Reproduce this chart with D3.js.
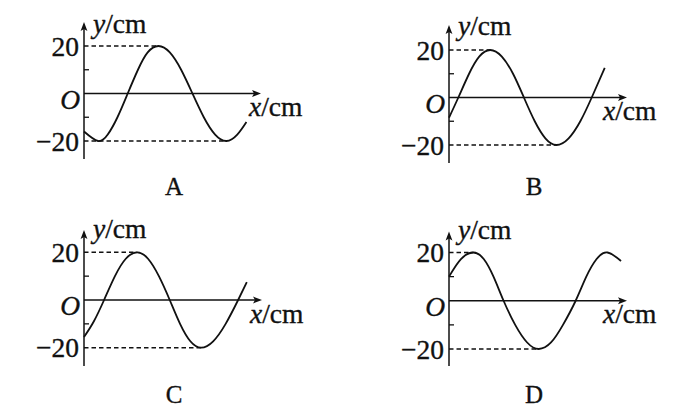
<!DOCTYPE html>
<html>
<head>
<meta charset="utf-8">
<script src="https://cdn.jsdelivr.net/npm/d3@7"></script>
<style>
  html, body { margin: 0; padding: 0; background: #fff; }
  svg { display: block; }
  text { font-family: "Liberation Serif", "Times New Roman", serif; fill: #111; stroke: #111; stroke-width: 0.35px; }
</style>
</head>
<body>
<svg id="chart" width="684" height="411"></svg>
<script>
// ---- data ----
const panelNames = ["A", "B", "C", "D"];
const yTickLabels = ["20", "O", "\u221220"];
const yLabelValues = [20, 0, -20];
const minorTicks = [10, -10];
const amplitude = 20;

const A_x = [0, 1.3, 2.2, 3.1, 4.05, 5.0, 5.9, 6.9, 7.95, 9.0, 10.05, 11.1, 12.15, 13.2, 14.2, 15.05];
const A_y = [-16, -20, -17.3, -10, 0, 10, 17.3, 20, 17.3, 10, 0, -10, -17.3, -20, -17.3, -12];

const B_x = [0, 0.86, 1.85, 2.8, 3.8, 4.85, 5.9, 6.9, 7.9, 8.9, 9.9, 11.0, 12.1, 13.15, 14.35];
const B_y = [-8.5, 0, 10, 17.3, 20, 17.3, 10, 0, -10, -17.3, -20, -17.3, -10, 0, 12.5];

const C_x = [0, 0.9, 1.85, 2.85, 3.85, 4.9, 5.9, 6.9, 7.9, 8.85, 9.8, 10.8, 11.9, 13.05, 14.2, 15.0];
const C_y = [-15.5, -9, 0, 10, 17.3, 20, 17.3, 10, 0, -10, -17.3, -20, -17.3, -10, 0, 7.5];

const D_x = [0, 1.1, 2.25, 3.2, 4.1, 5.03, 6.1, 7.2, 8.27, 9.4, 10.5, 11.67, 12.65, 13.6, 14.6, 15.85];
const D_y = [10, 17.3, 20, 17.3, 10, 0, -10, -17.3, -20, -17.3, -10, 0, 10, 17.3, 20, 16.5];

// x of the crest / trough that the dashed guide lines reach
const A_guides = [6.9, 13.2];
const B_guides = [3.8, 9.9];
const C_guides = [4.9, 10.8];
const D_guides = [2.25, 8.27];

const xDomainMax = 16.4;

// ---- layout (geometry only) ----
const layout = [
  { axisX: 84,  tipX: 261, yTop: 22,    yBottom: 159, yMax: 46,    yMin: 141,   xLabelX: 249, nameX: 174, nameY: 195, yLabelY: 33 },
  { axisX: 449, tipX: 627, yTop: 25,    yBottom: 163, yMax: 50,    yMin: 145,   xLabelX: 603, nameX: 534, nameY: 195, yLabelY: 35 },
  { axisX: 84,  tipX: 262, yTop: 230,   yBottom: 366, yMax: 252.3, yMin: 347.7, xLabelX: 250, nameX: 174, nameY: 403, yLabelY: 238 },
  { axisX: 449, tipX: 627, yTop: 231.5, yBottom: 366, yMax: 252.5, yMin: 349,   xLabelX: 603, nameX: 534, nameY: 403, yLabelY: 238.5 }
];

const seriesX = [A_x, B_x, C_x, D_x];
const seriesY = [A_y, B_y, C_y, D_y];
const guides = [A_guides, B_guides, C_guides, D_guides];

const svg = d3.select("#chart");
const ink = "#111";
const FS = 27.5;

panelNames.forEach((name, i) => {
  const L = layout[i];
  const x = d3.scaleLinear().domain([0, xDomainMax]).range([L.axisX, L.tipX]);
  const y = d3.scaleLinear().domain([-amplitude, amplitude]).range([L.yMin, L.yMax]);
  const g = svg.append("g");

  // dashed guides
  guides[i].forEach((gx, k) => {
    const v = k === 0 ? amplitude : -amplitude;
    g.append("line")
      .attr("x1", x(0)).attr("x2", x(gx))
      .attr("y1", y(v)).attr("y2", y(v))
      .attr("stroke", ink).attr("stroke-width", 1.4)
      .attr("stroke-dasharray", "4.5,3");
  });

  // x axis with arrow
  g.append("line")
    .attr("x1", x(0)).attr("x2", L.tipX - 4)
    .attr("y1", y(0)).attr("y2", y(0))
    .attr("stroke", ink).attr("stroke-width", 1.5);
  g.append("path")
    .attr("d", `M${L.tipX},${y(0)} L${L.tipX - 9},${y(0) - 3.4} L${L.tipX - 7},${y(0)} L${L.tipX - 9},${y(0) + 3.4} Z`)
    .attr("fill", ink);

  // y axis with arrow
  g.append("line")
    .attr("x1", x(0)).attr("x2", x(0))
    .attr("y1", L.yBottom).attr("y2", L.yTop + 4)
    .attr("stroke", ink).attr("stroke-width", 1.5);
  g.append("path")
    .attr("d", `M${x(0)},${L.yTop} L${x(0) - 3.4},${L.yTop + 9} L${x(0)},${L.yTop + 7} L${x(0) + 3.4},${L.yTop + 9} Z`)
    .attr("fill", ink);

  // minor ticks
  minorTicks.forEach(t => {
    g.append("line")
      .attr("x1", x(0)).attr("x2", x(0) + 5)
      .attr("y1", y(t)).attr("y2", y(t))
      .attr("stroke", ink).attr("stroke-width", 1.3);
  });

  // curve
  const pts = seriesX[i].map((xv, k) => [xv, seriesY[i][k]]);
  g.append("path")
    .datum(pts)
    .attr("fill", "none")
    .attr("stroke", ink)
    .attr("stroke-width", 1.8)
    .attr("d", d3.line().x(d => x(d[0])).y(d => y(d[1])).curve(d3.curveNatural));

  // y labels
  yLabelValues.forEach((v, k) => {
    const isO = yTickLabels[k] === "O";
    g.append("text")
      .attr("x", x(0) - (isO ? 4 : 5))
      .attr("y", y(v) + (isO ? 15 : 9.5))
      .attr("text-anchor", "end")
      .attr("font-size", FS)
      .attr("font-style", isO ? "italic" : "normal")
      .text(yTickLabels[k]);
  });

  // axis titles
  const yt = g.append("text")
    .attr("x", x(0) + 9).attr("y", L.yLabelY)
    .attr("font-size", FS);
  yt.append("tspan").attr("font-style", "italic").text("y");
  yt.append("tspan").text("/cm");

  const xt = g.append("text")
    .attr("x", L.xLabelX).attr("y", y(0) + 22.5)
    .attr("font-size", FS);
  xt.append("tspan").attr("font-style", "italic").text("x");
  xt.append("tspan").text("/cm");

  // panel name
  g.append("text")
    .attr("x", L.nameX).attr("y", L.nameY)
    .attr("text-anchor", "middle")
    .attr("font-size", 25)
    .text(name);
});
</script>
</body>
</html>
